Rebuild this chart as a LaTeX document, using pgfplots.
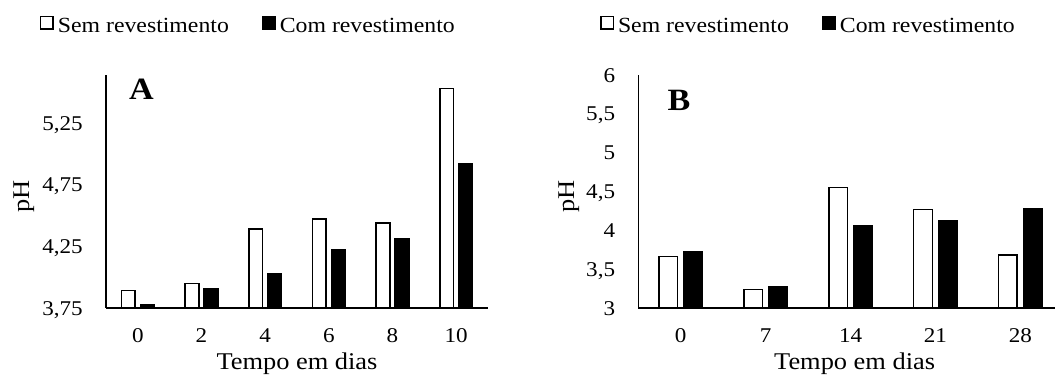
\documentclass[border=0pt]{standalone}
\usepackage{fontspec}
\setmainfont{Liberation Serif}[FakeStretch=1.1]
\usepackage{pgfplots}
\pgfplotsset{compat=1.18}
\pgfplotsset{
 common/.style={
  scale only axis, height=233pt,
  axis lines=left, axis line style={-, line width=1.6pt, black},
  major tick length=0pt, tick style={draw=none},
  xtick={0,1,2,3,4,5},
  yticklabel style={font=\fontsize{21}{25}\selectfont, anchor=base east, inner sep=0pt, xshift=-23pt, yshift=-7.1pt},
  xticklabel style={font=\fontsize{21}{25}\selectfont, anchor=base, inner sep=0pt, yshift=-35pt},
  xlabel={Tempo em dias}, ylabel={pH},
  xlabel style={font=\fontsize{24}{28}\selectfont, at={(axis description cs:0.5,0)}, anchor=base, yshift=-62pt, inner sep=0pt},
  ylabel style={font=\fontsize{24}{28}\selectfont, anchor=base, inner sep=0pt, rotate=0},
  legend columns=2,
  legend style={draw=none, fill=none, anchor=west, inner sep=0pt, outer sep=0pt,
    font=\fontsize{21.6}{26}\selectfont, nodes={inner sep=0pt},
    /tikz/every odd column/.append style={column sep=4pt},
    /tikz/every even column/.append style={column sep=33pt}},
  legend cell align=left,
 },
 wbar/.style={ybar, bar width=#1, fill=white, draw=black, line width=1.5pt,
   legend image code/.code={\draw[fill=white, draw=black, line width=1.5pt] (0pt,-2.8pt) rectangle (12.5pt,9.7pt);}},
 bbar/.style={ybar, bar width=#1, fill=black, draw=black, line width=1.5pt,
   legend image code/.code={\draw[fill=black, draw=black, line width=1.5pt] (0pt,-2.8pt) rectangle (12.5pt,9.7pt);}},
}
\begin{document}
\begin{tikzpicture}
\useasboundingbox (0,0) rectangle (1055pt,388pt);
% ---------- A ----------
\begin{axis}[common,
  at={(106pt,80pt)}, anchor=south west, width=382pt,
  xmin=-0.5, xmax=5.5, ymin=3.75, ymax=5.64,
  xticklabels={0,2,4,6,8,10},
  ytick={3.75,4.25,4.75,5.25},
  yticklabels={{3,75},{4,25},{4,75},{5,25}},
  ylabel style={at={(axis description cs:-0.201,0.48)}},
  legend style={at={(axis description cs:-0.1728,1.2146)}},
]
\addplot[wbar=13.8pt, bar shift=-9.5pt] coordinates {(0,3.89) (1,3.95) (2,4.39) (3,4.47) (4,4.44) (5,5.53)};
\addlegendentry{Sem revestimento}
\addplot[bbar=13.8pt, bar shift=9.5pt] coordinates {(0,3.78) (1,3.91) (2,4.03) (3,4.22) (4,4.31) (5,4.92)};
\addlegendentry{Com revestimento}
\node[font=\fontsize{31}{34}\selectfont\bfseries] at (axis description cs:0.093,0.94) {A};
\end{axis}
% ---------- B ----------
\begin{axis}[common,
  at={(638.3pt,80pt)}, anchor=south west, width=416.7pt,
  xmin=-0.5, xmax=4.408, ymin=3, ymax=6,
  xtick={0,1,2,3,4},
  xticklabels={0,7,14,21,28},
  ytick={3,3.5,4,4.5,5,5.5,6},
  yticklabels={3,{3,5},4,{4,5},5,{5,5},6},
  xlabel style={xshift=8pt},
  ylabel style={at={(axis description cs:-0.154,0.48)}},
  legend style={at={(axis description cs:-0.0919,1.2146)}},
]
\addplot[wbar=18.6pt, bar shift=-12.5pt] coordinates {(0,3.66) (1,3.24) (2,4.55) (3,4.27) (4,3.68)};
\addlegendentry{Sem revestimento}
\addplot[bbar=18.6pt, bar shift=12.5pt] coordinates {(0,3.72) (1,3.28) (2,4.06) (3,4.12) (4,4.28)};
\addlegendentry{Com revestimento}
\node[font=\fontsize{31}{34}\selectfont\bfseries] at (axis description cs:0.0977,0.893) {B};
\end{axis}
\end{tikzpicture}
\end{document}
